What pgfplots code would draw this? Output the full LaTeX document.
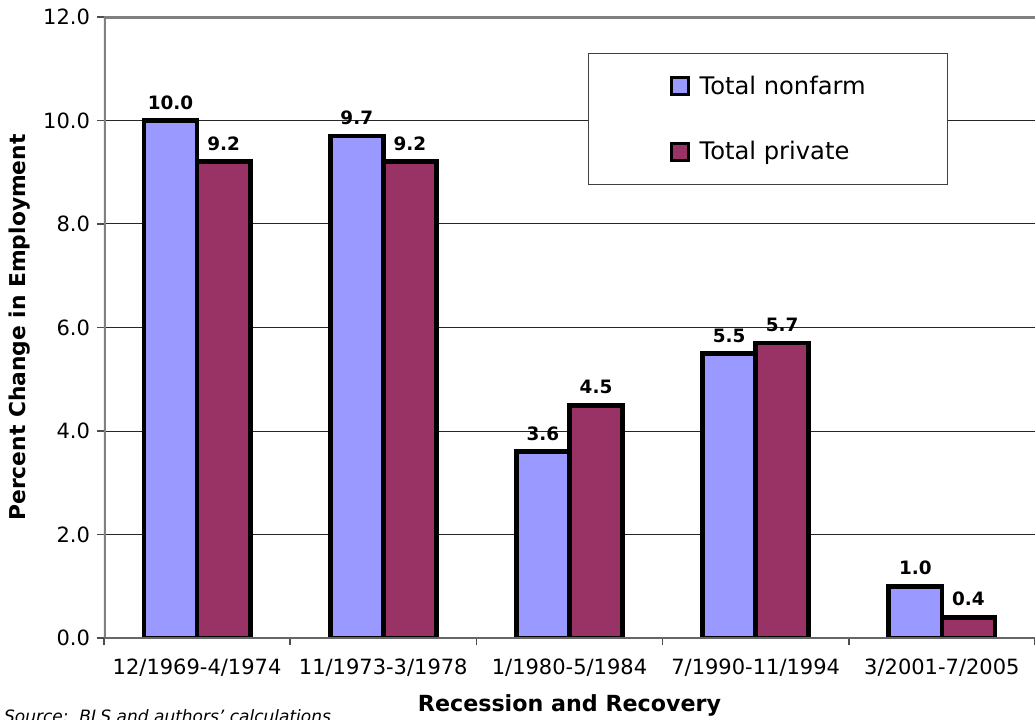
\documentclass[border=0pt]{standalone}
\usepackage{fontspec}
\setmainfont{DejaVu Sans}
\usepackage{pgfplots}
\pgfplotsset{compat=1.18}
\definecolor{nonfarm}{HTML}{9999FF}
\definecolor{private}{HTML}{993366}
\definecolor{frame}{HTML}{808080}

\begin{document}
\begin{tikzpicture}
\begin{axis}[
  at={(52pt,40.5pt)}, anchor=south west,
  scale only axis, width=465.5pt, height=310.5pt,
  xmin=-0.5, xmax=4.5, ymin=0, ymax=12,
  axis line style={draw=none},
  ybar=0pt, bar width=0.285,
  ytick={0,2,...,12},
  /pgf/number format/assume math mode=true,
  yticklabel={\pgfmathprintnumber[fixed,fixed zerofill,precision=1]{\tick}},
  xtick={-0.5,0.5,1.5,2.5,3.5,4.5},
  xticklabels={12/1969-4/1974,11/1973-3/1978,1/1980-5/1984,7/1990-11/1994,3/2001-7/2005,{}},
  xticklabel style={xshift=46.55pt, yshift=-3.5pt},
  xtick pos=bottom, ytick pos=left,
  tick align=outside, major tick length=3.5pt,
  tick style={draw=black!70, line width=0.8pt},
  ymajorgrids, grid style={draw=black!85, line width=0.5pt},
  tick label style={font=\fontsize{10.5}{12}\selectfont},
  ylabel={Percent Change in Employment},
  ylabel style={at={(axis description cs:-0.0902,0.5)}, anchor=center, font=\bfseries\fontsize{10.9}{12}\selectfont},
  xlabel={Recession and Recovery},
  xlabel style={at={(axis description cs:0.5,-0.108)}, anchor=center, font=\bfseries\fontsize{11.1}{13}\selectfont},
  nodes near coords={\pgfmathprintnumber[fixed,fixed zerofill,precision=1]{\pgfplotspointmeta}},
  every node near coord/.append style={font=\bfseries\fontsize{9.2}{10}\selectfont, black, yshift=1pt},
  legend cell align=left,
  legend image code/.code={\filldraw[draw=black, line width=1.5pt] (0pt,-4.2pt) rectangle (8.5pt,4.2pt);},
  legend style={at={(rel axis cs:0.5199,0.9420)}, anchor=north west, draw=black!75, line width=0.6pt, fill=white,
    font=\fontsize{12.1}{14}\selectfont, inner xsep=40.5pt, inner ysep=9pt, row sep=18pt,
    nodes={inner xsep=5pt}},
]
\addplot[draw=black, line width=2.4pt, fill=nonfarm] coordinates {(0,10.0) (1,9.7) (2,3.6) (3,5.5) (4,1.0)};
\addlegendentry{Total nonfarm\hspace*{-4.5pt}}
\addplot[draw=black, line width=2.4pt, fill=private] coordinates {(0,9.2) (1,9.2) (2,4.5) (3,5.7) (4,0.4)};
\addlegendentry{Total private}
\draw[frame, line width=2pt] (rel axis cs:0,0) -- (rel axis cs:0,1) -- (rel axis cs:1,1);
\draw[black!60, line width=1pt] (rel axis cs:0,0) -- (rel axis cs:1,0);
\end{axis}
\node[anchor=base west, font=\itshape\fontsize{8.5}{10}\selectfont] at (-1.5pt,-1.5pt) {Source:\ \ BLS and authors' calculations};
\pgfresetboundingbox
\path (0,0) rectangle (517.5pt,359.5pt);
\end{tikzpicture}
\end{document}
